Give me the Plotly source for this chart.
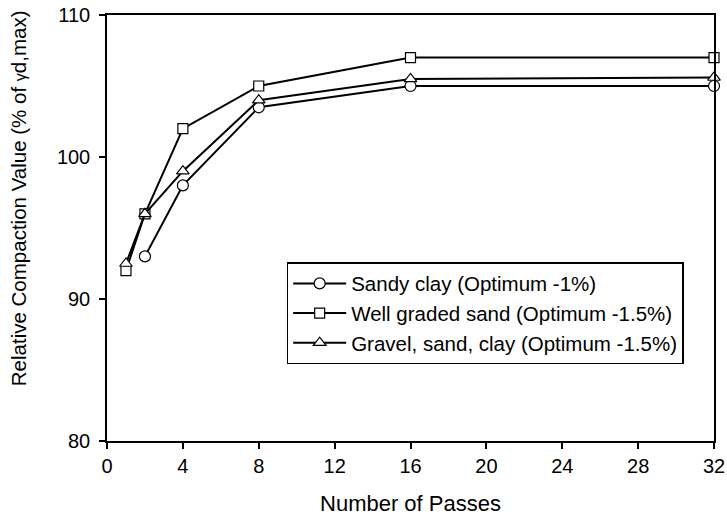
import plotly.graph_objects as go

# Compaction results vs. number of roller passes
sandy_passes = [2, 4, 8, 16, 32]
sandy_values = [93.0, 98.0, 103.5, 105.0, 105.0]

sand_passes = [1, 2, 4, 8, 16, 32]
sand_values = [92.0, 96.0, 102.0, 105.0, 107.0, 107.0]

gravel_passes = [1, 2, 4, 8, 16, 32]
gravel_values = [92.5, 96.0, 99.0, 104.0, 105.5, 105.6]

series = [
    ("Sandy clay (Optimum -1%)", sandy_passes, sandy_values, "circle", 11),
    ("Well graded sand (Optimum -1.5%)", sand_passes, sand_values, "square", 10),
    ("Gravel, sand, clay (Optimum -1.5%)", gravel_passes, gravel_values, "triangle-up", 11),
]

x_ticks = [0, 4, 8, 12, 16, 20, 24, 28, 32]
y_ticks = [80, 90, 100, 110]

FONT = "Liberation Sans, Arial, sans-serif"

fig = go.Figure()
for name, xs, ys, sym, size in series:
    fig.add_trace(go.Scatter(
        x=xs, y=ys, name=name, mode="lines+markers",
        line=dict(color="black", width=2),
        marker=dict(symbol=sym, size=size, color="white",
                    line=dict(color="black", width=1.2)),
        cliponaxis=False,
    ))

axis_common = dict(
    showline=True, linecolor="black", linewidth=1.5, mirror=True,
    ticks="outside", ticklen=6, tickwidth=1.5, tickcolor="black",
    showgrid=False, zeroline=False, automargin=False,
    tickfont=dict(family=FONT, size=20, color="black"),
)

fig.update_xaxes(
    range=[0, 32], tickvals=x_ticks, ticktext=[str(t) for t in x_ticks],
    title=dict(text="Number of Passes", font=dict(family=FONT, size=22, color="black"), standoff=20),
    **axis_common,
)
fig.update_yaxes(
    range=[80, 110], tickvals=y_ticks, ticktext=[str(t) for t in y_ticks],
    ticklabelstandoff=5,
    **axis_common,
)

# Y-axis title, set slightly above the axis centre
fig.add_annotation(
    text="Relative Compaction Value (% of <span style='font-size:16px'>γ</span>d,max)",
    xref="paper", yref="paper", x=-0.1466, y=0.57,
    xanchor="center", yanchor="middle", textangle=-90, showarrow=False,
    font=dict(family=FONT, size=20.5, color="black"),
)

fig.update_layout(
    width=727, height=521,
    margin=dict(l=107, r=13, t=15, b=80),
    plot_bgcolor="white", paper_bgcolor="white",
    showlegend=True,
    legend=dict(
        x=0.296, y=0.42, xanchor="left", yanchor="top",
        bgcolor="white", bordercolor="black", borderwidth=1.5,
        font=dict(family=FONT, size=20.5, color="black"),
        itemwidth=53, tracegroupgap=0,
    ),
)

fig.write_html("out.html")
